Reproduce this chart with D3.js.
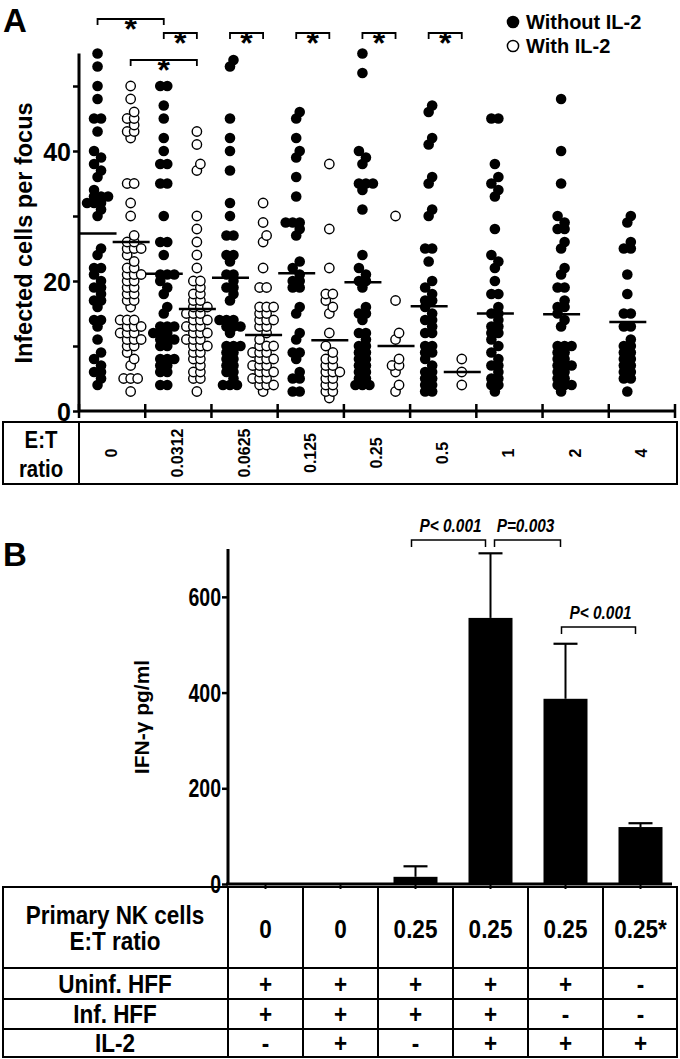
<!DOCTYPE html>
<html>
<head>
<meta charset="utf-8">
<script src="https://cdn.jsdelivr.net/npm/d3@7"></script>
<style>
  body { margin: 0; background: #fff; }
  text { font-family: "Liberation Sans", Arial, sans-serif; font-weight: bold; fill: #000; }
</style>
</head>
<body>
<div id="chart"></div>
<script>
/**
 * DATA - panel A (infected cells per focus)
 * */
const ratios = ["0", "0.0312", "0.0625", "0.125", "0.25", "0.5", "1", "2", "4"];

// without IL-2 (filled dots), one list per E:T ratio
const withoutIL2 = [
  [55, 53, 50, 48, 45, 45, 43, 40, 39, 38, 37, 36, 34, 33, 33, 33, 32, 32, 32, 31, 30, 25, 24, 22, 22, 21, 20, 19, 19, 18, 17, 17, 16, 14, 14, 13, 11, 9, 8, 7, 6, 6, 5, 4],
  [50, 50, 47, 45, 42, 40, 38, 38, 35, 35, 30, 26, 26, 24, 21, 21, 21, 20, 19, 18, 16, 15, 13, 13, 13, 12, 12, 12, 11, 11, 11, 10, 10, 8, 8, 8, 7, 7, 6, 6, 4, 4],
  [54, 53, 45, 42, 40, 37, 32, 30, 27, 27, 24, 24, 23, 21, 21, 20, 19, 19, 18, 17, 14, 14, 14, 13, 13, 13, 12, 10, 10, 10, 9, 9, 8, 8, 7, 7, 6, 6, 5, 4, 4, 4],
  [46, 45, 42, 40, 39, 36, 33, 29, 29, 29, 28, 27, 23, 22, 21, 20, 20, 19, 19, 16, 15, 12, 11, 9, 9, 8, 6, 5, 5, 3, 3],
  [55, 52, 40, 39, 38, 35, 35, 35, 34, 31, 24, 22, 21, 20, 20, 19, 16, 15, 15, 14, 12, 12, 11, 10, 10, 9, 9, 8, 8, 7, 7, 6, 6, 5, 5, 4, 4, 4],
  [47, 46, 42, 41, 36, 35, 31, 30, 25, 25, 23, 20, 19, 18, 17, 17, 16, 15, 14, 14, 13, 12, 12, 10, 10, 9, 9, 8, 7, 6, 6, 5, 5, 4, 4, 3, 3],
  [45, 45, 38, 36, 35, 34, 33, 28, 24, 23, 22, 20, 18, 18, 16, 15, 15, 14, 13, 13, 12, 12, 11, 10, 9, 8, 7, 7, 6, 5, 5, 4, 4, 3],
  [48, 40, 35, 30, 29, 28, 28, 26, 25, 22, 21, 19, 19, 17, 16, 16, 15, 14, 13, 10, 10, 10, 9, 9, 8, 8, 7, 7, 7, 6, 6, 5, 5, 4, 4, 4, 3],
  [30, 29, 26, 25, 25, 21, 18, 15, 15, 13, 13, 11, 10, 10, 9, 9, 8, 8, 7, 7, 6, 6, 5, 5, 3]
];

// with IL-2 (open dots), only measured up to 0.5
const withIL2 = [
  [50, 48, 46, 45, 45, 44, 43, 43, 42, 35, 35, 32, 30, 27, 26, 26, 25, 25, 25, 24, 23, 22, 22, 21, 21, 21, 20, 20, 19, 19, 18, 18, 17, 17, 16, 14, 14, 14, 13, 13, 13, 12, 12, 12, 11, 11, 11, 10, 10, 9, 8, 7, 5, 5, 5, 3],
  [43, 41, 38, 37, 30, 28, 26, 24, 22, 20, 20, 19, 18, 18, 17, 17, 16, 16, 16, 15, 15, 15, 14, 14, 14, 13, 13, 13, 12, 12, 12, 11, 11, 11, 10, 10, 10, 9, 9, 8, 8, 7, 6, 6, 5, 5, 3],
  [32, 29, 27, 26, 22, 19, 19, 16, 16, 16, 15, 15, 14, 14, 14, 13, 13, 12, 11, 10, 10, 10, 9, 9, 9, 8, 8, 8, 7, 7, 7, 6, 6, 6, 5, 5, 5, 4, 4, 4, 3],
  [38, 28, 22, 18, 18, 17, 16, 15, 12, 10, 9, 8, 8, 7, 7, 6, 6, 6, 5, 5, 4, 4, 3, 3, 2],
  [30, 17, 12, 11, 8, 7, 7, 6, 4, 3],
  [8, 6, 4]
];

// group lines drawn across each column
const lineWithout = [27.3, 21.1, 20.5, 21.2, 19.8, 16.1, 15.0, 14.9, 13.7];
const lineWith = [26.0, 15.7, 11.7, 10.9, 10.0, 6.0];

// significance brackets: [ratio, group, ratio, group, level]
const sigA = [
  ["0", "without", "0.0312", "without", 0],
  ["0.0312", "without", "0.0312", "with", 1],
  ["0", "with", "0.0312", "with", 2],
  ["0.0625", "without", "0.0625", "with", 1],
  ["0.125", "without", "0.125", "with", 1],
  ["0.25", "without", "0.25", "with", 1],
  ["0.5", "without", "0.5", "with", 1]
];

/**
 * DATA - panel B (IFN-gamma)
 * */
const ifnMean = [2, 0, 15, 556, 387, 119];
const ifnErr = [0, 0, 22, 135, 115, 8];
const ifnTicks = [0, 200, 400, 600];
const rowLabels = [["Primary NK cells", "E:T ratio"], ["Uninf. HFF"], ["Inf. HFF"], ["IL-2"]];
const etB = ["0", "0", "0.25", "0.25", "0.25", "0.25*"];
const uninfHFF = ["+", "+", "+", "+", "+", "-"];
const infHFF = ["+", "+", "+", "+", "-", "-"];
const il2 = ["-", "+", "-", "+", "+", "+"];
// p-value brackets: [from bar, to bar, label, level]
const sigB = [
  [2, 3, "P< 0.001", 0],
  [3, 4, "P=0.003", 0],
  [4, 5, "P< 0.001", 1]
];

/**
 * SETUP
 * */
const width = 680, height = 1059;
const svg = d3.select("#chart").append("svg")
  .attr("width", width).attr("height", height);
svg.append("rect").attr("width", width).attr("height", height).attr("fill", "#fff");

// condensed bold text (the original uses a narrow face)
function narrow(g, x, y, txt, size, sx, anchor = "middle") {
  return g.append("text")
    .attr("transform", `translate(${x},${y}) scale(${sx},1)`)
    .attr("text-anchor", anchor).style("font-size", size + "px").text(txt);
}

// ---------- PANEL A ----------
const yA = d3.scaleLinear().domain([0, 55]).range([411, 53.5]);
const xA = d3.scaleBand().domain(ratios).range([79, 675]);
const colX = (r, g) => xA(r) + xA.bandwidth() * (g === "without" ? 0.28 : 0.78);

svg.append("text").attr("x", 3).attr("y", 32).style("font-size", "33px").text("A");

// scatter layout: equal values side by side, neighbours zig-zag
function swarm(vals, cx) {
  const groups = d3.groups(vals, d => d).sort((a, b) => a[0] - b[0]);
  const out = [];
  let prevV = null, prevShift = 0;
  groups.forEach(([v, arr]) => {
    const n = arr.length;
    let shift = 0;
    if (prevV !== null && v - prevV === 1 && n % 2 === 1) shift = prevShift > 0 ? -3.5 : 3.5;
    arr.forEach((d, k) => out.push({ x: cx + shift + (k - (n - 1) / 2) * 7, y: yA(v), v }));
    prevV = v; prevShift = shift;
  });
  return out;
}

const dotsG = svg.append("g");
withoutIL2.forEach((vals, i) => {
  dotsG.selectAll(null).data(swarm(vals, colX(ratios[i], "without")))
    .join("circle")
    .attr("cx", d => d.x).attr("cy", d => d.y).attr("r", 5.3)
    .attr("fill", "#000");
});
withIL2.forEach((vals, i) => {
  dotsG.selectAll(null).data(swarm(vals, colX(ratios[i], "with")))
    .join("circle")
    .attr("cx", d => d.x).attr("cy", d => d.y).attr("r", 4.7)
    .attr("fill", "#fff").attr("stroke", "#000").attr("stroke-width", 1.4);
});

// mean lines
svg.selectAll("line.mw").data(lineWithout).join("line")
  .attr("x1", (d, i) => colX(ratios[i], "without") - 18)
  .attr("x2", (d, i) => colX(ratios[i], "without") + 19)
  .attr("y1", d => yA(d)).attr("y2", d => yA(d))
  .attr("stroke", "#000").attr("stroke-width", 2.5);
svg.selectAll("line.mo").data(lineWith).join("line")
  .attr("x1", (d, i) => colX(ratios[i], "with") - 18)
  .attr("x2", (d, i) => colX(ratios[i], "with") + 19)
  .attr("y1", d => yA(d)).attr("y2", d => yA(d))
  .attr("stroke", "#000").attr("stroke-width", 2.5);

// axes
const yAxisA = svg.append("g").attr("transform", "translate(79,0)")
  .call(d3.axisLeft(yA).tickValues([0, 10, 20, 30, 40, 50]).tickSize(6)
    .tickFormat(d => d % 20 === 0 ? d : ""));
yAxisA.select(".domain").attr("stroke-width", 3).attr("d", `M0,${yA(0)}V${yA(55)}`);
yAxisA.selectAll(".tick line").attr("stroke-width", 2.5);
yAxisA.selectAll(".tick text").attr("x", -8).attr("dy", "0.36em")
  .style("font-size", "25px").style("font-family", null);

const xAxisA = svg.append("g").attr("transform", `translate(0,${yA(0)})`);
xAxisA.append("line").attr("x1", 79).attr("x2", 675).attr("stroke", "#000").attr("stroke-width", 3);
xAxisA.selectAll("line.t").data(ratios.map(r => xA(r) + xA.bandwidth()).concat([79]))
  .join("line").attr("x1", d => d).attr("x2", d => d).attr("y1", -7).attr("y2", 7)
  .attr("stroke", "#000").attr("stroke-width", 2.5);

svg.append("text").attr("transform", "translate(32,233) rotate(-90)")
  .attr("text-anchor", "middle").style("font-size", "23.5px").text("Infected cells per focus");

// significance brackets
const levelY = [19, 33, 60];
sigA.forEach(([r1, g1, r2, g2, lv]) => {
  const x1 = colX(r1, g1), x2 = colX(r2, g2), y = levelY[lv];
  svg.append("path").attr("d", `M${x1},${y + 6}V${y}H${x2}V${y + 6}`)
    .attr("fill", "none").attr("stroke", "#000").attr("stroke-width", 1.8);
  svg.append("text").attr("x", (x1 + x2) / 2).attr("y", y + 21).attr("text-anchor", "middle")
    .style("font-size", "32px").text("*");
});

// legend
const legend = svg.append("g").attr("transform", "translate(513,0)");
legend.append("circle").attr("cx", 0).attr("cy", 22).attr("r", 6.3).attr("fill", "#000");
legend.append("circle").attr("cx", 0).attr("cy", 46).attr("r", 5.6).attr("fill", "#fff")
  .attr("stroke", "#000").attr("stroke-width", 1.5);
legend.append("text").attr("x", 13).attr("y", 29).style("font-size", "20px").text("Without IL-2");
legend.append("text").attr("x", 13).attr("y", 53).style("font-size", "20px").text("With IL-2");

// E:T ratio table
const tA = svg.append("g");
tA.append("rect").attr("x", 3).attr("y", 422).attr("width", 674).attr("height", 62)
  .attr("fill", "none").attr("stroke", "#000").attr("stroke-width", 2);
tA.append("line").attr("x1", 79).attr("x2", 79).attr("y1", 422).attr("y2", 484)
  .attr("stroke", "#000").attr("stroke-width", 2);
narrow(tA, 41, 448, "E:T", 24, 0.85);
narrow(tA, 41, 477, "ratio", 24, 0.85);
tA.selectAll("text.r").data(ratios).join("text")
  .attr("transform", d => `translate(${xA(d) + xA.bandwidth() / 2 + 5},453) rotate(-90)`)
  .attr("text-anchor", "middle").style("font-size", "16px").text(d => d);

// ---------- PANEL B ----------
const yB = d3.scaleLinear().domain([0, 700]).range([884, 549]);
const xB = d3.scaleBand().domain(d3.range(6)).range([228, 678]);
const barW = 44;

svg.append("text").attr("x", 3).attr("y", 566).style("font-size", "33px").text("B");

const errs = svg.append("g");
ifnMean.forEach((m, i) => {
  if (ifnErr[i] <= 0) return;
  const cx = xB(i) + xB.bandwidth() / 2;
  errs.append("line").attr("x1", cx).attr("x2", cx).attr("y1", yB(m)).attr("y2", yB(m + ifnErr[i]))
    .attr("stroke", "#000").attr("stroke-width", 2);
  errs.append("line").attr("x1", cx - 12).attr("x2", cx + 12)
    .attr("y1", yB(m + ifnErr[i])).attr("y2", yB(m + ifnErr[i]))
    .attr("stroke", "#000").attr("stroke-width", 2.2);
});

svg.selectAll("rect.bar").data(ifnMean).join("rect")
  .attr("x", (d, i) => xB(i) + xB.bandwidth() / 2 - barW / 2)
  .attr("width", barW)
  .attr("y", d => yB(d)).attr("height", d => yB(0) - yB(d))
  .attr("fill", "#000");

const yAxisB = svg.append("g").attr("transform", "translate(228,0)")
  .call(d3.axisLeft(yB).tickValues(ifnTicks).tickSize(6).tickFormat(""));
yAxisB.select(".domain").attr("stroke-width", 3).attr("d", `M0,${yB(0)}V${yB(700)}`);
yAxisB.selectAll(".tick line").attr("stroke-width", 2.5);
ifnTicks.forEach(t => narrow(svg, 221, yB(t) + 9, t, 25, 0.78, "end"));

svg.append("line").attr("x1", 226).attr("x2", 672).attr("y1", yB(0)).attr("y2", yB(0))
  .attr("stroke", "#000").attr("stroke-width", 3);
svg.selectAll("line.bt").data(d3.range(6)).join("line")
  .attr("x1", d => xB(d) + xB.bandwidth() / 2).attr("x2", d => xB(d) + xB.bandwidth() / 2)
  .attr("y1", yB(0)).attr("y2", yB(0) + 5).attr("stroke", "#000").attr("stroke-width", 2);

svg.append("text").attr("transform", "translate(149,717) rotate(-90)")
  .attr("text-anchor", "middle").style("font-size", "21px").text("IFN-γ pg/ml");

// p-value brackets
const levelB = [540, 627];
sigB.forEach(([a, b, label, lv]) => {
  const x1 = xB(a) + xB.bandwidth() / 2 - 4, x2 = xB(b) + xB.bandwidth() / 2 - 5, y = levelB[lv];
  svg.append("path").attr("d", `M${x1 + (lv === 0 && a === 3 ? 8 : 0)},${y + 7}V${y}H${x2}V${y + 7}`)
    .attr("fill", "none").attr("stroke", "#000").attr("stroke-width", 1.5);
  narrow(svg, (x1 + x2) / 2 + 2, y - 8, label, 17.5, 0.88).style("font-style", "italic");
});

// condition table
const rowsY = [887, 968, 999, 1029, 1057];
const tB = svg.append("g");
tB.append("rect").attr("x", 3).attr("y", rowsY[0]).attr("width", 674).attr("height", rowsY[4] - rowsY[0])
  .attr("fill", "none").attr("stroke", "#000").attr("stroke-width", 2);
rowsY.slice(1, 4).forEach(y => tB.append("line").attr("x1", 3).attr("x2", 677).attr("y1", y).attr("y2", y)
  .attr("stroke", "#000").attr("stroke-width", 2));
d3.range(6).forEach(i => tB.append("line").attr("x1", xB(i)).attr("x2", xB(i))
  .attr("y1", rowsY[0]).attr("y2", rowsY[4]).attr("stroke", "#000").attr("stroke-width", 2));

rowLabels.forEach((lines, r) => {
  const mid = (rowsY[r] + rowsY[r + 1]) / 2;
  lines.forEach((t, k) => {
    narrow(tB, 115, mid + 9 + (k - (lines.length - 1) / 2) * 26, t, 25, 0.9);
  });
});
[etB, uninfHFF, infHFF, il2].forEach((row, r) => {
  const mid = (rowsY[r] + rowsY[r + 1]) / 2;
  row.forEach((d, i) => narrow(tB, xB(i) + xB.bandwidth() / 2, mid + (r === 0 ? 10 : 9), d, 25, 0.9));
});
</script>
</body>
</html>
